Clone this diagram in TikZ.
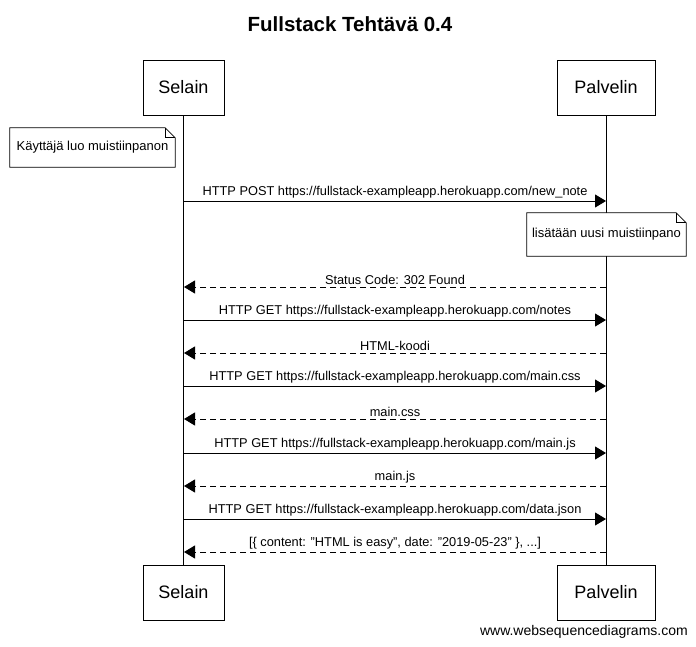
\documentclass[tikz,border=0pt]{standalone}
\usepackage{fontspec}
\setmainfont{Liberation Sans}
\usetikzlibrary{arrows.meta}
\begin{document}
\begin{tikzpicture}[x=1pt,y=-1pt,
  actor/.style={draw, line width=0.9pt, minimum height=55pt, inner sep=0pt, font=\fontsize{18}{20}\selectfont},
  msg/.style={-{Triangle[length=11pt,width=13pt]}, line width=0.9pt},
  reply/.style={msg, dash pattern=on 6pt off 4pt},
  lbl/.style={above, inner sep=2pt, font=\fontsize{12.8}{14}\selectfont},
  notebox/.style={inner sep=0pt, font=\fontsize{13}{15}\selectfont},
  life/.style={line width=0.9pt}
]
\useasboundingbox (0,0) rectangle (696,647);
\node[font=\bfseries\fontsize{20.5}{24}\selectfont] (title) at (350,24) {Fullstack Tehtävä 0.4};

\node[actor, minimum width=81pt] (st) at (183.5,87.5) {Selain};
\node[actor, minimum width=98pt] (pt) at (606,87.5) {Palvelin};
\node[actor, minimum width=81pt] (sb) at (183.5,592.5) {Selain};
\node[actor, minimum width=98pt] (pb) at (606,592.5) {Palvelin};
\draw[life] (st.south) -- (sb.north);
\draw[life] (pt.south) -- (pb.north);

% note 1
\node[notebox, minimum width=165pt, minimum height=39pt] (n1) at (92.5,147.5) {Käyttäjä luo muistiinpanon};
\draw[line width=0.7pt, fill=white] (n1.north west) -- ([xshift=-10pt]n1.north east) -- ([yshift=-10pt]n1.north east) -- (n1.south east) -- (n1.south west) -- cycle;
\draw[line width=0.7pt] ([xshift=-10pt]n1.north east) -- ++(0,10) -- ([yshift=-10pt]n1.north east);
\node[notebox] at (n1) {Käyttäjä luo muistiinpanon};

\foreach \i/\y in {1/201,2/287,3/320,4/353,5/386,6/419,7/453,8/486,9/519,10/552}{
  \coordinate (s\i) at (184,\y);
  \coordinate (p\i) at (606,\y);
}

\draw[msg] (s1) -- node[lbl] {HTTP POST https://fullstack-exampleapp.herokuapp.com/new\_note} (p1);

% note 2
\node[notebox, minimum width=159pt, minimum height=43pt] (n2) at (606.5,234.5) {lisätään uusi muistiinpano};
\draw[line width=0.7pt, fill=white] (n2.north west) -- ([xshift=-10pt]n2.north east) -- ([yshift=-10pt]n2.north east) -- (n2.south east) -- (n2.south west) -- cycle;
\draw[line width=0.7pt] ([xshift=-10pt]n2.north east) -- ++(0,10) -- ([yshift=-10pt]n2.north east);
\node[notebox] at (n2) {lisätään uusi muistiinpano};

\draw[reply] (p2) -- node[lbl] {Status Code: 302 Found} (s2);
\draw[msg] (s3) -- node[lbl] {HTTP GET https://fullstack-exampleapp.herokuapp.com/notes} (p3);
\draw[reply] (p4) -- node[lbl] {HTML-koodi} (s4);
\draw[msg] (s5) -- node[lbl] {HTTP GET https://fullstack-exampleapp.herokuapp.com/main.css} (p5);
\draw[reply] (p6) -- node[lbl] {main.css} (s6);
\draw[msg] (s7) -- node[lbl] {HTTP GET https://fullstack-exampleapp.herokuapp.com/main.js} (p7);
\draw[reply] (p8) -- node[lbl] {main.js} (s8);
\draw[msg] (s9) -- node[lbl] {HTTP GET https://fullstack-exampleapp.herokuapp.com/data.json} (p9);
\draw[reply] (p10) -- node[lbl] {[\{ content: "HTML is easy", date: "2019-05-23" \}, ...]} (s10);

\node[anchor=east, inner sep=0pt, font=\fontsize{14}{16}\selectfont] (wsd) at (688,632) {www.websequencediagrams.com};
\end{tikzpicture}
\end{document}
